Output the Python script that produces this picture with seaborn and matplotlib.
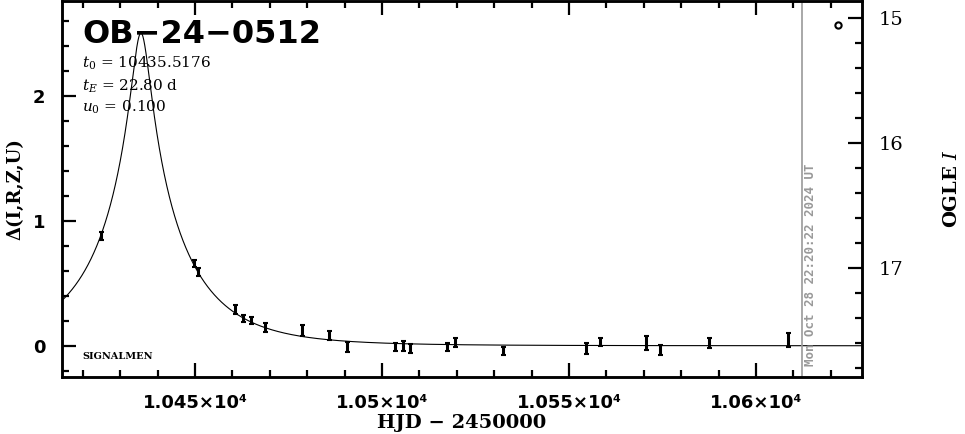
import numpy as np
import pandas as pd
import matplotlib
matplotlib.use("Agg")
import matplotlib.pyplot as plt
import seaborn as sns
from matplotlib.ticker import MultipleLocator, FuncFormatter
from matplotlib.lines import Line2D

sns.set_style("ticks", {"axes.edgecolor": "black", "text.color": "black",
                        "xtick.color": "black", "ytick.color": "black",
                        "axes.labelcolor": "black"})
plt.rcParams["font.family"] = ["DejaVu Sans"]
plt.rcParams["mathtext.fontset"] = "dejavuserif"

# event parameters (shown on the plot)
EVENT = "OB\u221224\u22120512"
T0 = 10435.5176
TE = 22.80
U0 = 0.100
BASE_MAG = 17.624          # OGLE I baseline, delta = 0
NOW_HJD = 10612.4          # time stamp line
NOW_TEXT = "Mon Oct 28 22:20:22 2024 UT"

# photometry
hjd = [10424.9, 10449.7, 10450.7, 10460.7, 10462.9, 10464.9, 10468.7, 10478.7,
       10485.8, 10490.6, 10503.5, 10505.5, 10507.5, 10517.3, 10519.5, 10532.4,
       10554.5, 10558.3, 10570.5, 10574.3, 10587.4, 10608.4]
delta = [0.875, 0.66, 0.59, 0.29, 0.22, 0.20, 0.15, 0.12,
         0.08, -0.01, -0.01, -0.005, -0.02, -0.01, 0.03, -0.04,
         -0.02, 0.03, 0.02, -0.03, 0.02, 0.05]
err = [0.032, 0.030, 0.033, 0.033, 0.030, 0.028, 0.036, 0.043,
       0.035, 0.040, 0.033, 0.040, 0.036, 0.033, 0.036, 0.033,
       0.043, 0.030, 0.057, 0.040, 0.040, 0.056]

XLIM = (10414.4, 10628.3)
YLIM = (-0.25, 2.76)


def pspl_delta(t):
    tau = (t - T0) / TE
    u = np.sqrt(U0 ** 2 + tau ** 2)
    amp = (u ** 2 + 2) / (u * np.sqrt(u ** 2 + 4))
    return 2.5 * np.log10(amp)


t_model = np.linspace(XLIM[0], XLIM[1], 4000)
model = pd.DataFrame({"hjd": t_model, "delta": pspl_delta(t_model)})
obs = pd.DataFrame({"hjd": hjd, "delta": delta, "err": err})

fig = plt.figure(figsize=(9.65, 4.34), dpi=100)
ax = fig.add_axes([0.0642, 0.1313, 0.829, 0.8664])

sns.lineplot(data=model, x="hjd", y="delta", ax=ax, color="black", lw=0.8)
ax.errorbar(obs["hjd"], obs["delta"], yerr=obs["err"], fmt="none",
            ecolor="black", elinewidth=2.2, capsize=1.8, capthick=1.5)
ax.axvline(NOW_HJD, color="#999999", lw=1.2)
ax.text(NOW_HJD + 2.2, -0.16, NOW_TEXT, rotation=90, ha="center", va="bottom",
        color="#999999", fontsize=9, fontweight="bold", family="DejaVu Sans Mono")

ax.set_xlim(XLIM)
ax.set_ylim(YLIM)
ax.xaxis.set_major_locator(MultipleLocator(50))
ax.xaxis.set_minor_locator(MultipleLocator(10))
ax.yaxis.set_major_locator(MultipleLocator(1))
ax.yaxis.set_minor_locator(MultipleLocator(0.2))
ax.xaxis.set_major_formatter(FuncFormatter(lambda v, p: f"{v / 1e4:g}\u00d710\u2074"))
ax.yaxis.set_major_formatter(FuncFormatter(lambda v, p: f"{v:g}"))
ax.tick_params(which="both", direction="in", top=True, right=False, width=1.6)
ax.tick_params(which="major", length=10)
ax.tick_params(which="minor", length=5)
ax.tick_params(axis="x", labelsize=13, pad=12)
ax.tick_params(axis="y", labelsize=13, pad=12)
for lab in ax.get_xticklabels() + ax.get_yticklabels():
    lab.set_fontweight("bold")
for sp in ax.spines.values():
    sp.set_linewidth(1.8)

ax.set_xlabel("HJD \u2212 2450000", family="DejaVu Serif", fontweight="bold",
              fontsize=14, labelpad=2)
ax.set_ylabel("\u0394(I,R,Z,U)", family="DejaVu Serif", fontweight="bold",
              fontsize=13, labelpad=6)

# OGLE I magnitude axis
ax2 = ax.twinx()
ax2.set_ylim(BASE_MAG - YLIM[0], BASE_MAG - YLIM[1])
ax2.yaxis.set_major_locator(MultipleLocator(1))
ax2.yaxis.set_minor_locator(MultipleLocator(0.2))
ax2.yaxis.set_major_formatter(FuncFormatter(lambda v, p: f"{v:g}"))
ax2.tick_params(which="both", direction="in", width=1.6)
ax2.tick_params(which="major", length=10)
ax2.tick_params(which="minor", length=5)
ax2.tick_params(axis="y", labelsize=14, pad=12)
for lab in ax2.get_yticklabels():
    lab.set_family("DejaVu Serif")
for sp in ax2.spines.values():
    sp.set_linewidth(1.8)
ax2.set_ylabel(r"$\mathbf{OGLE}\ \mathit{I}$", fontsize=14, labelpad=28)

ax2.legend(handles=[Line2D([], [], marker="o", mfc="none", mec="black", mew=1.5,
                           ms=4.5, ls="none")],
           labels=[""], loc="upper right", frameon=False, handlelength=0.5,
           borderaxespad=0.9, handletextpad=0.2)

ax.text(0.025, 0.888, EVENT, transform=ax.transAxes, fontsize=23,
        fontweight="bold", va="baseline")
ax.text(0.025, 0.822, rf"$t_0$ = {T0:.4f}", transform=ax.transAxes,
        fontsize=11, family="DejaVu Serif", va="baseline")
ax.text(0.025, 0.763, rf"$t_E$ = {TE:.2f} d", transform=ax.transAxes,
        fontsize=11, family="DejaVu Serif", va="baseline")
ax.text(0.025, 0.705, rf"$u_0$ = {U0:.3f}", transform=ax.transAxes,
        fontsize=11, family="DejaVu Serif", va="baseline")
ax.text(0.025, 0.048, "SIGNALMEN", transform=ax.transAxes, fontsize=7,
        family="DejaVu Serif", fontweight="bold", va="baseline")

fig.savefig("out.png", dpi=100)
